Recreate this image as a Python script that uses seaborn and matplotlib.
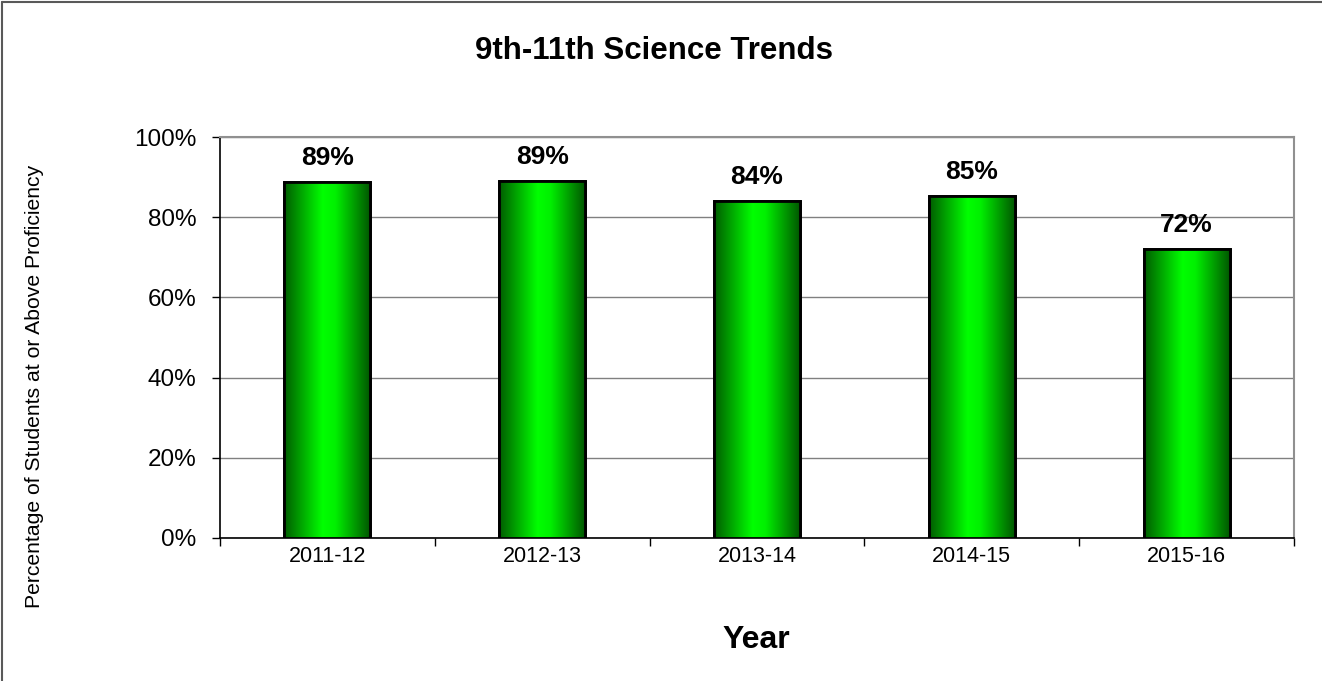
import numpy as np
import pandas as pd
import matplotlib
matplotlib.use('Agg')
import matplotlib.pyplot as plt
import seaborn as sns
from matplotlib.colors import LinearSegmentedColormap
from matplotlib.patches import Rectangle

# donnees
years = ['2011-12', '2012-13', '2013-14', '2014-15', '2015-16']
pct = [0.887, 0.890, 0.840, 0.853, 0.720]
labels = ['89%', '89%', '84%', '85%', '72%']

df = pd.DataFrame({'Year': years, 'Pct': pct})

sns.set_style('white')
plt.rcParams['font.family'] = ['Liberation Sans', 'DejaVu Sans']
plt.rcParams['text.color'] = 'black'
plt.rcParams['xtick.color'] = 'black'
plt.rcParams['ytick.color'] = 'black'
plt.rcParams['xtick.labelcolor'] = 'black'
plt.rcParams['ytick.labelcolor'] = 'black'

fig = plt.figure(figsize=(13.22, 6.81), dpi=100)
ax = fig.add_axes([220 / 1322, 1 - 538 / 681, (1294 - 220) / 1322, (538 - 137) / 681])

sns.barplot(data=df, x='Year', y='Pct', color='#00ff00', width=0.4,
            edgecolor='black', linewidth=2, ax=ax, zorder=3)

# degrade horizontal vert fonce -> vert vif -> vert fonce
grad = LinearSegmentedColormap.from_list('g', [(0, '#005c00'), (0.45, '#00ff00'), (0.6, '#00f000'), (1, '#005800')])
gvals = np.linspace(0, 1, 256).reshape(1, -1)
for p in ax.patches:
    x0, y0 = p.get_x(), p.get_y()
    w, h = p.get_width(), p.get_height()
    im = ax.imshow(gvals, cmap=grad, aspect='auto', extent=[x0, x0 + w, y0, y0 + h],
                   zorder=3.5, interpolation='bilinear')
    im.set_clip_path(p)
    border = Rectangle((x0, y0), w, h, fill=False, edgecolor='black', linewidth=2, zorder=4)
    ax.add_patch(border)

for i, (v, lab) in enumerate(zip(pct, labels)):
    ax.text(i, v + 0.03, lab, ha='center', va='bottom', fontsize=19, fontweight='bold',
            color='black', zorder=5)

ax.set_xlim(-0.5, 4.5)
ax.set_ylim(0, 1)
ax.set_yticks(np.arange(0, 1.01, 0.2))
ax.set_yticklabels([f'{int(round(t * 100))}%' for t in np.arange(0, 1.01, 0.2)], fontsize=17.5)
ax.tick_params(axis='y', which='major', length=6, width=1, color='black', direction='out', left=True, pad=11)
ax.tick_params(axis='x', length=0, labelsize=15.5, pad=6)
ax.set_xticks(range(5))
ax.set_xticklabels(years)
ax.set_xticks(np.arange(-0.5, 4.6, 1), minor=True)
ax.tick_params(axis='x', which='minor', length=6, width=1, color='black', bottom=True)
ax.yaxis.grid(True, color='#808080', linewidth=1, zorder=0)
ax.set_axisbelow(True)

for s in ['left', 'bottom']:
    ax.spines[s].set_color('black')
    ax.spines[s].set_linewidth(1.2)
for s in ['top', 'right']:
    ax.spines[s].set_color('#909090')
    ax.spines[s].set_linewidth(1.5)

ax.set_xlabel('')
ax.set_ylabel('')

fig.text(654 / 1322, 1 - 51 / 681, '9th-11th Science Trends', ha='center', va='center',
         fontsize=22.5, fontweight='bold', color='black')
fig.text(756 / 1322, 1 - 640 / 681, 'Year', ha='center', va='center', fontsize=23,
         fontweight='bold', color='black')
fig.text(35 / 1322, 1 - 386 / 681, 'Percentage of Students at or Above Proficiency', ha='center',
         va='center', rotation=90, fontsize=15.2, color='black')

# cadre de la figure (gauche et haut)
fig.add_artist(plt.Line2D([2 / 1322, 2 / 1322], [0, 1 - 2 / 681], transform=fig.transFigure, color='#595959', linewidth=1.5))
fig.add_artist(plt.Line2D([2 / 1322, 1], [1 - 2 / 681, 1 - 2 / 681], transform=fig.transFigure, color='#595959', linewidth=1.5))

fig.savefig('out.png', dpi=100, facecolor='white')
